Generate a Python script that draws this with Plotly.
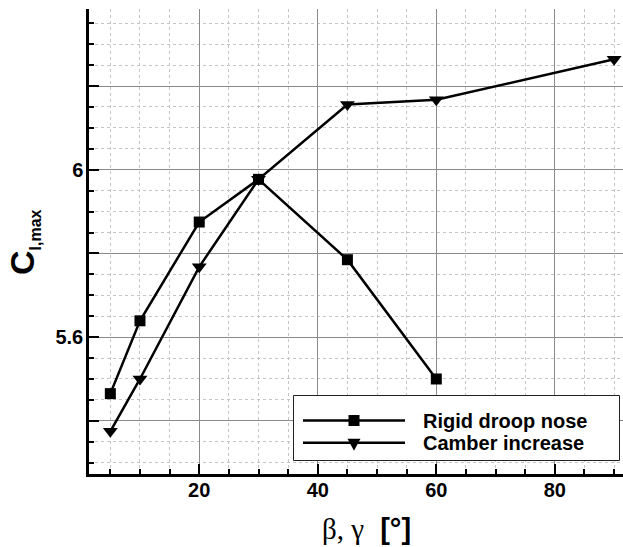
import plotly.graph_objects as go

# Maximum lift coefficient vs. deflection angle
droop_angle = [5, 10, 20, 30, 45, 60]
droop_clmax = [5.465, 5.639, 5.875, 5.977, 5.785, 5.500]

camber_angle = [5, 10, 20, 30, 45, 60, 90]
camber_clmax = [5.375, 5.500, 5.768, 5.977, 6.156, 6.167, 6.264]

x_tickvals = [20, 40, 60, 80]
x_ticktext = ["20", "40", "60", "80"]
y_label_vals = [5.6, 6.0]
y_label_text = ["5.6", "6"]
y_unlabelled_vals = [5.4, 5.8, 6.2]

series_names = ["Rigid droop nose", "Camber increase"]

W, H = 623, 547
ML, MR, MT, MB = 89, 0, 9, 73
PW, PH = W - ML - MR, H - MT - MB
X_RANGE = [1.4, 91.5]
Y_RANGE = [5.273, 6.384]


def px(xp):
    return (xp - ML) / PW


def py(yp):
    return (H - MB - yp) / PH


LINE = dict(color="black", width=2.5)
FONT = "Liberation Sans, Arial, sans-serif"

fig = go.Figure()
fig.add_trace(go.Scatter(
    x=camber_angle, y=camber_clmax, mode="lines+markers", name=series_names[1],
    line=LINE, marker=dict(symbol="triangle-down", size=13, color="black"),
    showlegend=False,
))
fig.add_trace(go.Scatter(
    x=droop_angle, y=droop_clmax, mode="lines+markers", name=series_names[0],
    line=LINE, marker=dict(symbol="square", size=11, color="black"),
    showlegend=False,
))

axis_common = dict(
    showline=True, linecolor="black", linewidth=2.5, mirror=False,
    showgrid=True, gridcolor="#8a8a8a", gridwidth=1, zeroline=False,
    ticks="inside", ticklen=10, tickwidth=2, tickcolor="black",
    tickfont=dict(family=FONT, size=20, color="black", weight="bold"),
    tickmode="array",
)

fig.update_layout(
    xaxis=dict(
        range=X_RANGE, tickvals=x_tickvals, ticktext=x_ticktext,
        ticklabelstandoff=-4,
        minor=dict(tickmode="linear", tick0=0, dtick=5, ticks="inside", ticklen=5,
                   tickwidth=1.5, tickcolor="black", showgrid=True,
                   gridcolor="#c4c4c4", griddash="dot", gridwidth=1),
        **axis_common,
    ),
    yaxis=dict(
        range=Y_RANGE, tickvals=y_label_vals, ticktext=y_label_text,
        ticklabelstandoff=-1,
        minor=dict(tickmode="linear", tick0=5.0, dtick=0.05, ticks="inside", ticklen=5,
                   tickwidth=1.5, tickcolor="black", showgrid=True,
                   gridcolor="#c4c4c4", griddash="dot", gridwidth=1),
        **axis_common,
    ),
    # unlabelled major ticks and grid on the value axis
    yaxis2=dict(
        range=Y_RANGE, overlaying="y", anchor="x", side="left",
        tickmode="array", tickvals=y_unlabelled_vals, showticklabels=False,
        ticks="inside", ticklen=10, tickwidth=2, tickcolor="black",
        showgrid=True, gridcolor="#8a8a8a", gridwidth=1, zeroline=False,
        showline=False,
    ),
)
# invisible carrier so the overlay axis is laid out
fig.add_trace(go.Scatter(x=[None], y=[None], yaxis="y2", showlegend=False,
                         hoverinfo="skip"))

shapes = []
annotations = []

# Legend box
shapes.append(dict(type="rect", xref="paper", yref="paper",
                   x0=px(293.5), x1=px(619.5), y0=py(460.5), y1=py(395.5),
                   line=dict(color="#222222", width=1), fillcolor="white", layer="above"))
rows = [(420.5, "square"), (442.7, "triangle")]
for (yc, sym), name in zip(rows, series_names):
    shapes.append(dict(type="line", xref="paper", yref="paper",
                       x0=px(303), x1=px(405), y0=py(yc), y1=py(yc),
                       line=dict(color="black", width=2.5), layer="above"))
    cx = 354
    if sym == "square":
        s = 5.5
        shapes.append(dict(type="rect", xref="paper", yref="paper",
                           x0=px(cx - s), x1=px(cx + s), y0=py(yc + s), y1=py(yc - s),
                           fillcolor="black", line=dict(width=0), layer="above"))
    else:
        path = "M {:.5f},{:.5f} L {:.5f},{:.5f} L {:.5f},{:.5f} Z".format(
            px(cx - 6.5), py(yc - 4), px(cx + 6.5), py(yc - 4), px(cx), py(yc + 8))
        shapes.append(dict(type="path", xref="paper", yref="paper", path=path,
                           fillcolor="black", line=dict(width=0), layer="above"))
    annotations.append(dict(xref="paper", yref="paper", x=px(421), y=py(yc),
                            xanchor="left", yanchor="middle", showarrow=False,
                            text=name, font=dict(family=FONT, size=20, color="black",
                                                 weight="bold")))

# Axis titles
annotations.append(dict(
    xref="paper", yref="paper", x=px(23), y=py(242), xanchor="center", yanchor="middle",
    showarrow=False, textangle=-90,
    text="<b>C<sub><span style='font-size:16px'>l,max</span></sub></b>",
    font=dict(family=FONT, size=34, color="black"),
))
annotations.append(dict(
    xref="paper", yref="paper", x=px(366), y=py(529), xanchor="center", yanchor="middle",
    showarrow=False,
    text="<span style='font-family:Liberation Serif'>\u03b2, \u03b3</span>\u00a0\u00a0<b>[\u00b0]</b>",
    font=dict(family=FONT, size=29, color="black"),
))

fig.update_layout(
    width=W, height=H, margin=dict(l=ML, r=MR, t=MT, b=MB, pad=0),
    paper_bgcolor="white", plot_bgcolor="white",
    shapes=shapes, annotations=annotations, showlegend=False,
)

fig.write_html("out.html")
